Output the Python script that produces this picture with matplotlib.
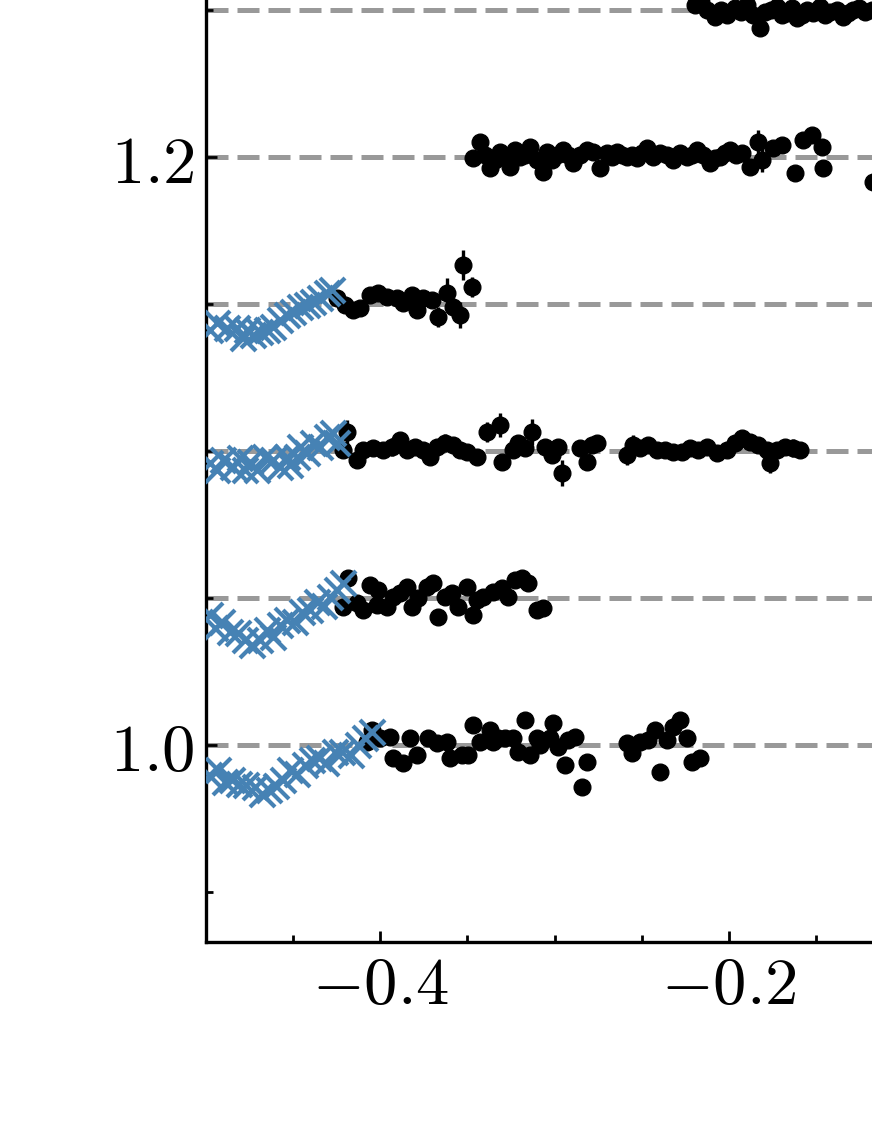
import numpy as np
import matplotlib
matplotlib.use("Agg")
import matplotlib.pyplot as plt
from matplotlib.ticker import MultipleLocator, FuncFormatter

plt.rcParams["mathtext.fontset"] = "cm"
plt.rcParams["font.family"] = "serif"

# vertical offsets of the stacked light curves
offsets = [1.0, 1.05, 1.1, 1.15, 1.2, 1.25]

# residuals are stored in units of 1e-3 (relative flux minus offset)

# ---- offset 1.00
x100_blue = [-0.498, -0.493, -0.489, -0.485, -0.481, -0.477, -0.472, -0.468, -0.464, -0.460,
             -0.456, -0.452, -0.448, -0.443, -0.439, -0.435, -0.431, -0.426, -0.422, -0.417,
             -0.413, -0.409, -0.405]
r100_blue = [-10.2, -8.5, -12.6, -11.9, -13.3, -13.6, -14.3, -16.5, -15.3, -13.9,
             -11.9, -8.5, -9.8, -6.8, -5.1, -4.4, -6.0, -2.4, -2.4, -3.4,
             0.0, 2.4, 4.4]
x100_black = [-0.4076, -0.4047, -0.4001, -0.3944, -0.3927, -0.3869, -0.3829, -0.3789, -0.3726, -0.3674,
              -0.3617, -0.3600, -0.3531, -0.3496, -0.3468, -0.3428, -0.3370, -0.3353, -0.3324, -0.3284,
              -0.3238, -0.3210, -0.3169, -0.3141, -0.3100, -0.3083, -0.3026, -0.3009, -0.2980, -0.2940,
              -0.2922, -0.2882, -0.2842, -0.2813, -0.2584, -0.2555, -0.2509, -0.2463, -0.2423, -0.2395,
              -0.2354, -0.2320, -0.2280, -0.2240, -0.2211, -0.2165]
r100_black = [1.0, 5.1, 2.4, 2.7, -4.4, -6.1, 2.4, -3.4, 2.4, 0.7,
              1.0, -4.4, -3.4, -3.4, 6.8, 1.0, 5.1, 1.0, 2.4, 2.4,
              2.4, -2.4, 8.5, -3.4, 2.4, 0.0, 2.4, 7.5, -0.7, -6.8,
              1.7, 2.7, -14.3, -5.8, 0.7, -2.7, 1.0, 1.7, 5.1, -9.2,
              1.7, 6.1, 8.5, 2.4, -5.8, -4.4]
e100_black = 1.5

# ---- offset 1.05
x105_blue = [-0.4977, -0.4948, -0.4908, -0.4862, -0.4816, -0.4776, -0.4736, -0.4690, -0.4650, -0.4615,
             -0.4575, -0.4535, -0.4489, -0.4449, -0.4403, -0.4363, -0.4323, -0.4288, -0.4248, -0.4214]
r105_blue = [-5.8, -10.2, -8.2, -11.6, -11.9, -14.3, -16.0, -14.3, -10.9, -13.3,
             -9.2, -7.5, -8.2, -4.8, -4.1, -1.4, -2.7, 0.3, 2.7, 5.1]
x105_black = [-0.4214, -0.4185, -0.4133, -0.4099, -0.4059, -0.4019, -0.4013, -0.3961, -0.3927, -0.3887,
              -0.3846, -0.3818, -0.3783, -0.3732, -0.3697, -0.3669, -0.3628, -0.3588, -0.3554, -0.3502,
              -0.3468, -0.3445, -0.3410, -0.3353, -0.3301, -0.3267, -0.3227, -0.3187, -0.3152, -0.3100,
              -0.3066]
r105_black = [-3.1, 6.8, -1.7, -4.1, 4.4, -2.4, 2.7, -3.1, 0.3, 1.7,
              3.7, -3.1, 0.0, 3.7, 5.1, -6.5, 0.3, 1.7, -3.1, 3.7,
              -5.8, -0.7, 0.3, 2.0, 3.4, 0.3, 6.1, 6.8, 5.1, -4.1,
              -3.4]
e105_black = 1.5

# ---- offset 1.10
x110_blue = [-0.4977, -0.4937, -0.4902, -0.4845, -0.4805, -0.4776, -0.4747, -0.4707, -0.4661, -0.4615,
             -0.4575, -0.4535, -0.4518, -0.4478, -0.4461, -0.4420, -0.4386, -0.4346, -0.4306, -0.4271,
             -0.4248]
r110_blue = [-4.1, -6.5, -3.1, -5.4, -2.4, -6.5, -3.7, -6.5, -2.0, -3.1,
             -5.4, -2.0, -4.8, -2.0, 1.4, -0.7, 2.7, 1.4, 4.8, 6.1,
             2.7]
x110_black = [-0.4214, -0.4191, -0.4133, -0.4099, -0.4042, -0.3984, -0.3933, -0.3887, -0.3846, -0.3801,
              -0.3755, -0.3714, -0.3674, -0.3628, -0.3582, -0.3542, -0.3502, -0.3445, -0.3387, -0.3313,
              -0.3301, -0.3238, -0.3210, -0.3169, -0.3129, -0.3054, -0.3014, -0.2980, -0.2957, -0.2854,
              -0.2813, -0.2785, -0.2756, -0.2584, -0.2549, -0.2509, -0.2463, -0.2412, -0.2366, -0.2320,
              -0.2268, -0.2222, -0.2176, -0.2125, -0.2067, -0.2010, -0.1964, -0.1924, -0.1878, -0.1832,
              -0.1780, -0.1763, -0.1723, -0.1677, -0.1631, -0.1591]
r110_black = [0.3, 6.5, -3.1, 0.3, 1.0, 0.3, 1.4, 3.7, 0.3, 1.4,
              0.3, -2.0, 1.4, 2.7, 2.0, 0.3, -0.3, -2.0, 6.5, 8.8,
              -3.7, 0.3, 2.7, 1.0, 6.5, 1.4, -1.4, 1.4, -7.5, 1.0,
              -3.7, 2.0, 2.7, -1.4, 2.0, 1.0, 2.0, 0.3, 0.3, -0.3,
              -0.3, 1.0, 0.3, 1.4, -0.7, 0.3, 2.7, 4.4, 3.1, 2.0,
              0.3, -4.1, 0.3, 1.4, 1.0, 0.3]
e110_black = [2.5, 4.0, 2.5, 2.5, 2.5, 2.5, 3.0, 2.5, 2.5, 2.5,
              2.5, 2.5, 2.5, 3.0, 2.5, 2.5, 2.5, 2.5, 3.5, 4.0,
              2.5, 2.5, 2.5, 2.5, 4.5, 2.5, 2.5, 2.5, 4.5, 2.5,
              2.5, 2.5, 2.5, 3.5, 3.5, 2.5, 2.5, 2.5, 2.5, 2.5,
              2.5, 2.5, 2.5, 2.5, 2.5, 2.5, 2.5, 2.5, 2.5, 2.5,
              2.5, 3.5, 2.5, 2.5, 3.0, 2.5]

# ---- offset 1.15
x115_blue = [-0.4977, -0.4937, -0.4879, -0.4822, -0.4788, -0.4765, -0.4730, -0.4690, -0.4650, -0.4615,
             -0.4575, -0.4535, -0.4501, -0.4461, -0.4420, -0.4386, -0.4346, -0.4306, -0.4277]
r115_blue = [-8.8, -6.5, -8.2, -8.2, -11.6, -8.8, -10.5, -9.5, -8.8, -7.8,
             -5.4, -3.7, -2.7, -1.0, -0.3, 0.7, 2.0, 3.7, 4.8]
x115_black = [-0.4248, -0.4202, -0.4156, -0.4116, -0.4059, -0.4013, -0.3961, -0.3904, -0.3869, -0.3818,
              -0.3789, -0.3755, -0.3703, -0.3669, -0.3617, -0.3582, -0.3542, -0.3525, -0.3473]
r115_black = [2.0, -0.3, -2.0, -1.4, 3.1, 3.7, 2.4, 2.0, 0.3, 3.1,
              -2.0, 2.0, 1.4, -4.4, 3.7, -1.0, -3.7, 13.3, 5.8]
e115_black = [2.5, 2.0, 2.5, 2.0, 2.5, 2.0, 2.5, 2.0, 2.0, 2.0,
              2.5, 2.0, 2.0, 3.5, 5.0, 2.5, 4.5, 5.0, 3.5]

# ---- offset 1.20
x120_black = [-0.3468, -0.3428, -0.3399, -0.3370, -0.3341, -0.3313, -0.3284, -0.3255, -0.3227, -0.3198,
              -0.3169, -0.3141, -0.3100, -0.3066, -0.3043, -0.3014, -0.2986, -0.2951, -0.2922, -0.2894,
              -0.2854, -0.2813, -0.2779, -0.2739, -0.2699, -0.2670, -0.2641, -0.2613, -0.2584, -0.2555,
              -0.2527, -0.2498, -0.2469, -0.2435, -0.2395, -0.2354, -0.2320, -0.2280, -0.2240, -0.2211,
              -0.2182, -0.2148, -0.2108, -0.2079, -0.2050, -0.2022, -0.1993, -0.1958, -0.1924, -0.1878,
              -0.1832, -0.1809, -0.1746, -0.1694, -0.1620, -0.1574, -0.1522, -0.1465, -0.1459, -0.1172]
r120_black = [-0.3, 5.1, 0.7, -3.7, -1.0, 1.7, 0.0, -3.4, 2.4, 0.0,
              0.7, 3.4, -1.0, -5.1, 1.7, -1.0, 0.7, 2.4, 0.7, -2.0,
              0.7, 2.4, 1.7, -3.7, 1.4, 0.0, 1.7, 0.7, 0.0, 0.7,
              -0.3, 1.4, 3.1, 0.0, 1.4, 0.7, -1.0, 1.4, 0.0, 0.7,
              2.4, 0.7, -2.0, -0.3, 0.0, 1.4, 2.4, 0.7, 1.4, -3.4,
              5.1, -1.0, 3.1, 4.1, -5.4, 5.8, 7.5, 3.4, -3.7, -8.5]
e120_black = 2.0
e120_wide = 4.0   # the two noisy points near x = -0.18
wide120 = [-0.1832, -0.1809]

# ---- offset 1.25
x125_black = [-0.2194, -0.2160, -0.2125, -0.2079, -0.2045, -0.2010, -0.1964, -0.1930, -0.1895, -0.1861,
              -0.1821, -0.1792, -0.1758, -0.1723, -0.1694, -0.1666, -0.1637, -0.1608, -0.1580, -0.1551,
              -0.1516, -0.1476, -0.1447, -0.1419, -0.1379, -0.1344, -0.1316, -0.1287, -0.1252, -0.1218,
              -0.1178]
r125_black = [1.7, 2.7, 0.0, -2.4, 0.0, -1.7, 0.7, -0.7, 1.7, -1.7,
              -6.1, -0.7, 0.0, 1.0, -1.7, -1.0, 0.7, -2.7, -1.7, 0.0,
              -1.0, 1.0, -1.7, -0.7, 0.0, -2.4, -1.0, 0.0, 0.7, -0.7,
              0.0]
e125_black = 1.5

blue_sets = [(x100_blue, r100_blue, 1.0), (x105_blue, r105_blue, 1.05),
             (x110_blue, r110_blue, 1.1), (x115_blue, r115_blue, 1.15)]

e120_list = [e120_wide if x in wide120 else e120_black for x in x120_black]
black_sets = [(x100_black, r100_black, e100_black, 1.0),
              (x105_black, r105_black, e105_black, 1.05),
              (x110_black, r110_black, e110_black, 1.1),
              (x115_black, r115_black, e115_black, 1.15),
              (x120_black, r120_black, e120_list, 1.2),
              (x125_black, r125_black, e125_black, 1.25)]

fig = plt.figure(figsize=(8.72, 11.28), dpi=100)
# the panel continues past the right and top edges of the figure
ax = fig.add_axes([206 / 872, 186 / 1128, 0.4 * 1742.5 / 872, (1.3 - 0.933) * 2940 / 1128])

for off in offsets:
    ax.axhline(off, color="#999999", lw=3.6, dashes=(4.4, 1.8), zorder=1)

for xs, rs, es, off in black_sets:
    y = off + np.array(rs) / 1000.0
    err = np.array(es) / 1000.0
    ax.errorbar(xs, y, yerr=err * np.ones(len(xs)), fmt="o", color="black", ms=12,
                elinewidth=2.4, capsize=0, zorder=3)

for xs, rs, off in blue_sets:
    y = off + np.array(rs) / 1000.0
    ax.plot(xs, y, "x", color="#4682B4", ms=18, mew=3.0, zorder=4)

ax.set_xlim(-0.5, -0.1)
ax.set_ylim(0.933, 1.3)

ax.xaxis.set_major_locator(MultipleLocator(0.2))
ax.xaxis.set_minor_locator(MultipleLocator(0.05))
ax.yaxis.set_major_locator(MultipleLocator(0.2))
ax.yaxis.set_minor_locator(MultipleLocator(0.05))
fmt = FuncFormatter(lambda v, p: r"$%.1f$" % v)
ax.xaxis.set_major_formatter(fmt)
ax.yaxis.set_major_formatter(fmt)

ax.tick_params(which="both", direction="in", top=True, right=True, width=2.0)
ax.tick_params(which="major", length=8, labelsize=48, pad=8)
ax.tick_params(which="minor", length=5)
for s in ax.spines.values():
    s.set_linewidth(2.4)

fig.savefig("out.png", dpi=100)
